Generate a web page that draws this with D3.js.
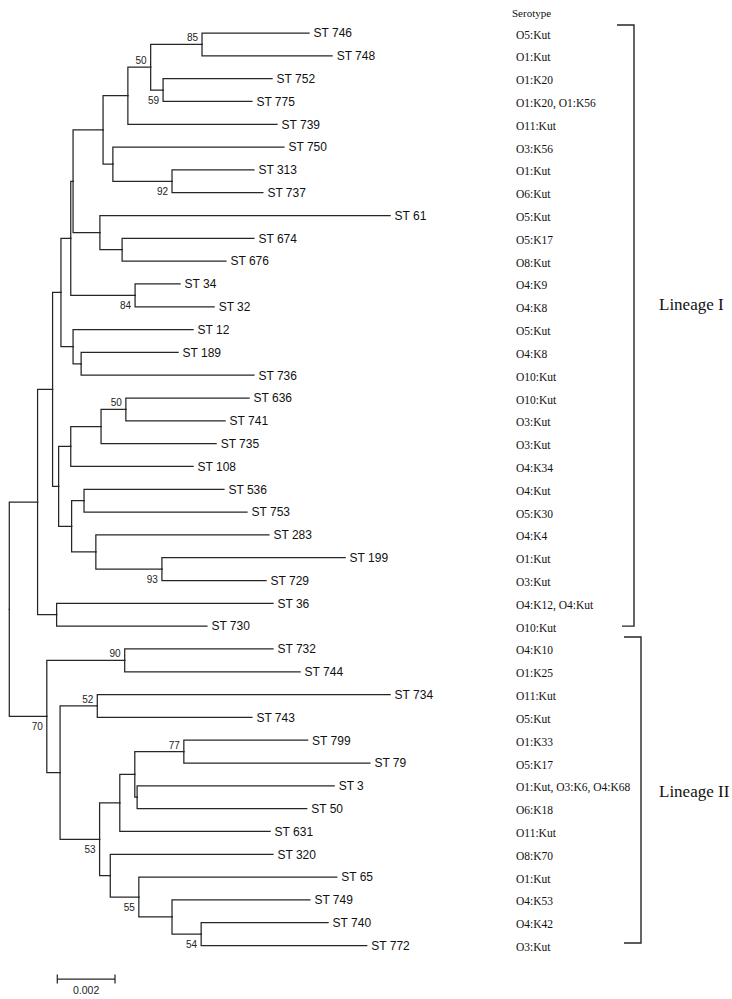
<!DOCTYPE html>
<html>
<head>
<meta charset="utf-8">
<script src="https://cdn.jsdelivr.net/npm/d3@7"></script>
<style>
  html, body { margin: 0; padding: 0; background: #fff; }
  svg { display: block; }
</style>
</head>
<body>
<svg id="chart" width="732" height="999"></svg>
<script>
// ---------------- DATA ----------------
// Leaves in display order (top to bottom)
const leafNames = ["ST 746","ST 748","ST 752","ST 775","ST 739","ST 750","ST 313","ST 737","ST 61","ST 674",
  "ST 676","ST 34","ST 32","ST 12","ST 189","ST 736","ST 636","ST 741","ST 735","ST 108",
  "ST 536","ST 753","ST 283","ST 199","ST 729","ST 36","ST 730","ST 732","ST 744","ST 734",
  "ST 743","ST 799","ST 79","ST 3","ST 50","ST 631","ST 320","ST 65","ST 749","ST 740","ST 772"];
const leafParents = ["n85","n85","n59","n59","Q","T","n92","n92","U","n674",
  "n674","n84","n84","V","n189","n189","n50b","n50b","W","G",
  "n536","n536","J","n93","n93","n36","n36","n90","n90","n52",
  "n52","n77","n77","N","N","L","O","n55","P","n54","n54"];
const leafLengths = [0.00371,0.00451,0.00378,0.00308,0.00517,0.00593,0.00284,0.00315,0.01006,0.00457,
  0.00360,0.00156,0.00274,0.00416,0.00336,0.00599,0.00427,0.00344,0.00399,0.00424,
  0.00485,0.00565,0.00600,0.00635,0.00361,0.00750,0.00521,0.00514,0.00608,0.01015,
  0.00536,0.00429,0.00645,0.00683,0.00588,0.00521,0.00564,0.00686,0.00478,0.00440,0.00574];
const serotypes = ["O5:Kut","O1:Kut","O1:K20","O1:K20, O1:K56","O11:Kut","O3:K56","O1:Kut","O6:Kut","O5:Kut","O5:K17",
  "O8:Kut","O4:K9","O4:K8","O5:Kut","O4:K8","O10:Kut","O10:Kut","O3:Kut","O3:Kut","O4:K34",
  "O4:Kut","O5:K30","O4:K4","O1:Kut","O3:Kut","O4:K12, O4:Kut","O10:Kut","O4:K10","O1:K25","O11:Kut",
  "O5:Kut","O1:K33","O5:K17","O1:Kut, O3:K6, O4:K68","O6:K18","O11:Kut","O8:K70","O1:Kut","O4:K53","O4:K42","O3:Kut"];

// Internal nodes: id, parent, branch length, bootstrap support
const cladeIds     = ["root","F","E","D","C","B","A","Q","S","n85","n59","T","n92","U","n674","n84","V","n189",
  "H","G","W","n50b","I","n536","J","n93","n36","n70","n90","K","n52","n53","L","M","n77","N","O","n55","P","n54"];
const cladeParents = ["","root","F","E","D","C","B","A","Q","S","S","A","T","B","U","C","D","V",
  "E","H","G","W","H","I","I","J","F","root","n70","n70","K","K","n53","L","M","M","n53","O","n55","P"];
const cladeLengths = [0,0.00098,0.00052,0.00029,0.00034,0.00008,0.00104,0.00086,0.00079,0.00178,0.00043,0.00034,0.00205,0.00093,0.00077,0.00223,0.00042,0.00028,
  0.00021,0.00042,0.00105,0.00086,0.00045,0.00043,0.00084,0.00229,0.00066,0.00130,0.00270,0.00046,0.00129,0.00137,0.00070,0.00052,0.00170,0.00008,0.00037,0.00099,0.00115,0.00101];
const cladeSupport = [null,null,null,null,null,null,null,null,50,85,59,null,92,null,null,84,null,null,
  null,null,null,50,null,null,null,93,null,70,90,null,52,53,null,null,77,null,null,55,null,54];

const lineages = [
  { name: "Lineage I",  first: "ST 746", last: "ST 730" },
  { name: "Lineage II", first: "ST 732", last: "ST 772" }
];
const scaleBarValue = 0.002;
const columnTitle = "Serotype";

// ---------------- STYLE / LAYOUT ----------------
const supportBelow = new Set(["n59","n92","n84","n93","n70","n53","n55","n54"]);
const lineColor = "#262626";
const sansFont = "Liberation Sans, Arial, sans-serif";
const serifFont = "Liberation Serif, Times New Roman, serif";

// ---------------- BUILD TREE ----------------
const rows = [];
cladeIds.forEach((id, i) => rows.push({ id, parent: cladeParents[i], len: cladeLengths[i], support: cladeSupport[i], leaf: false }));
leafNames.forEach((id, i) => rows.push({ id, parent: leafParents[i], len: leafLengths[i], serotype: serotypes[i], order: i, leaf: true }));

const root = d3.stratify().id(d => d.id).parentId(d => d.parent || null)(rows);
// order children by their first leaf
root.eachAfter(n => { n.minOrder = n.children ? d3.min(n.children, c => c.minOrder) : n.data.order; });
root.sort((a, b) => a.minOrder - b.minOrder);
// cumulative distance
root.eachBefore(n => { n.dist = n.parent ? n.parent.dist + n.data.len : 0; });

const x = d3.scaleLinear().domain([0, 0.001]).range([9.3, 9.3 + 28.85]);
const y = d3.scaleLinear().domain([0, leafNames.length - 1]).range([33, 945.5]);

root.eachAfter(n => {
  n.px = x(n.dist);
  if (n.children) {
    n.py = (n.children[0].py + n.children[n.children.length - 1].py) / 2;
  } else {
    n.py = y(n.data.order);
  }
});

const svg = d3.select("#chart");
const g = svg.append("g");

// branches
g.append("g")
  .attr("fill", "none")
  .attr("stroke", lineColor)
  .attr("stroke-width", 1.25)
  .attr("stroke-linecap", "square")
  .selectAll("path")
  .data(root.descendants().filter(n => n.parent))
  .join("path")
  .attr("d", n => `M${n.parent.px},${n.parent.py}V${n.py}H${n.px}`);

// leaf labels
g.append("g")
  .selectAll("text")
  .data(root.leaves())
  .join("text")
  .attr("x", n => n.px + 4.5)
  .attr("y", n => n.py)
  .attr("dy", "0.36em")
  .attr("font-family", sansFont)
  .attr("font-size", 12)
  .attr("fill", "#111")
  .text(n => n.data.id);

// bootstrap values
g.append("g")
  .selectAll("text")
  .data(root.descendants().filter(n => n.data.support != null))
  .join("text")
  .attr("x", n => n.px - 4)
  .attr("y", n => supportBelow.has(n.data.id) ? n.py + 14 : n.py - 3)
  .attr("text-anchor", "end")
  .attr("font-family", sansFont)
  .attr("font-size", 10)
  .attr("fill", "#222")
  .text(n => n.data.support);

// serotype column
g.append("text")
  .attr("x", 512)
  .attr("y", 13.5)
  .attr("dy", "0.35em")
  .attr("font-family", serifFont)
  .attr("font-size", 11)
  .attr("fill", "#111")
  .text(columnTitle);

g.append("g")
  .selectAll("text")
  .data(root.leaves())
  .join("text")
  .attr("x", 516)
  .attr("y", n => n.py + 1.5)
  .attr("dy", "0.35em")
  .attr("font-family", serifFont)
  .attr("font-size", 11.5)
  .attr("fill", "#111")
  .text(n => n.data.serotype);

// lineage brackets
const leafY = name => y(leafNames.indexOf(name));
const bracketLayout = [
  { xv: 634, xTop: 617, xBot: 622, topOff: -8, botOff: 0, labelY: 304 },
  { xv: 641, xTop: 624, xBot: 624, topOff: -12, botOff: -2.5, labelY: 791 }
];
lineages.forEach((L, i) => {
  const b = bracketLayout[i];
  const y0 = leafY(L.first) + b.topOff, y1 = leafY(L.last) + b.botOff;
  g.append("path")
    .attr("d", `M${b.xTop},${y0}H${b.xv}V${y1}H${b.xBot}`)
    .attr("fill", "none")
    .attr("stroke", lineColor)
    .attr("stroke-width", 1.4);
  g.append("text")
    .attr("x", 659)
    .attr("y", b.labelY)
    .attr("dy", "0.35em")
    .attr("font-family", serifFont)
    .attr("font-size", 17)
    .attr("fill", "#111")
    .text(L.name);
});

// scale bar
const sbX0 = 57.3, sbY = 979;
const sbLen = x(scaleBarValue) - x(0);
const sb = g.append("g").attr("stroke", lineColor).attr("stroke-width", 1.25);
sb.append("line").attr("x1", sbX0).attr("x2", sbX0 + sbLen).attr("y1", sbY).attr("y2", sbY);
sb.append("line").attr("x1", sbX0).attr("x2", sbX0).attr("y1", sbY - 4.5).attr("y2", sbY + 4.5);
sb.append("line").attr("x1", sbX0 + sbLen).attr("x2", sbX0 + sbLen).attr("y1", sbY - 4.5).attr("y2", sbY + 4.5);
g.append("text")
  .attr("x", sbX0 + sbLen / 2)
  .attr("y", 990)
  .attr("dy", "0.35em")
  .attr("text-anchor", "middle")
  .attr("font-family", sansFont)
  .attr("font-size", 10.5)
  .attr("fill", "#222")
  .text(d3.format(".3f")(scaleBarValue));
</script>
</body>
</html>
